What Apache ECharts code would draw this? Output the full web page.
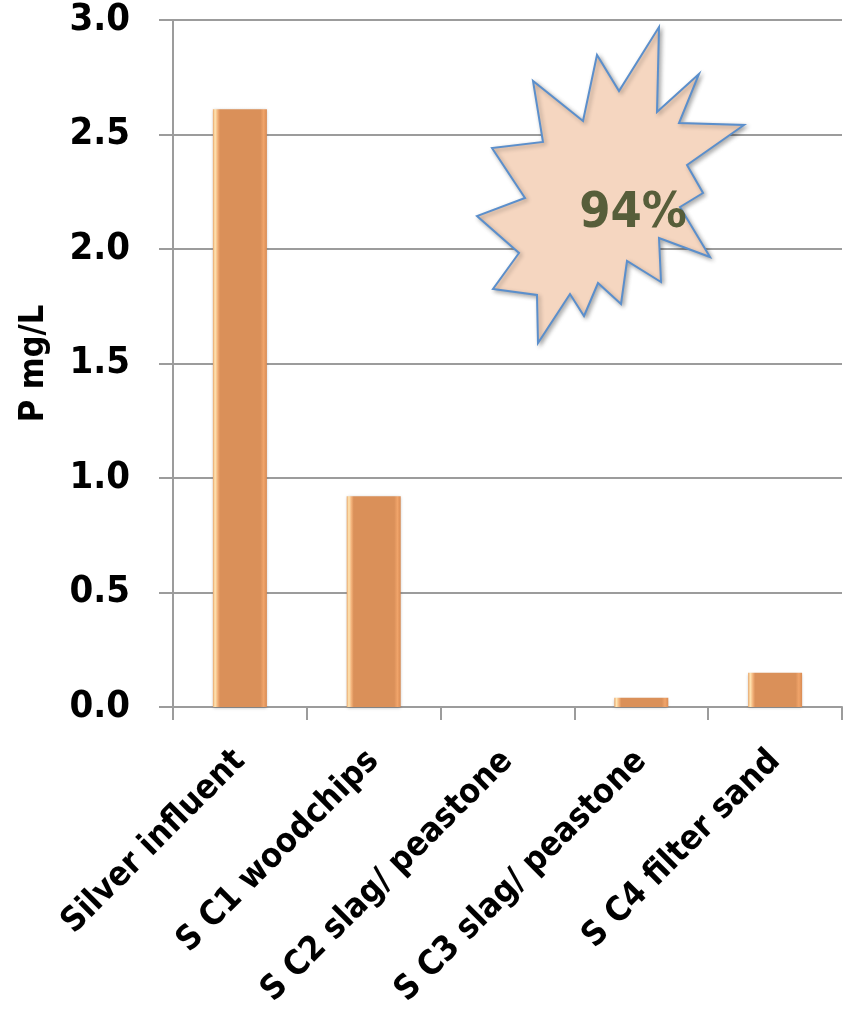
<!DOCTYPE html>
<html>
<head>
<meta charset="utf-8">
<script src="https://cdn.jsdelivr.net/npm/echarts@6/dist/echarts.min.js"></script>
<style>
  html, body { margin: 0; padding: 0; background: #ffffff; }
  #chart { width: 850px; height: 1011px; }
</style>
</head>
<body>
<div id="chart"></div>
<script>
const categories = ['Silver influent', 'S C1 woodchips', 'S C2 slag/ peastone', 'S C3 slag/ peastone', 'S C4 filter sand'];
const values = [2.61, 0.92, 0, 0.04, 0.15];
const yTicks = { min: 0, max: 3, interval: 0.5 };
const yName = 'P mg/L';
const calloutText = '94%';

const FONT = '"DejaVu Sans Condensed", "DejaVu Sans", sans-serif';
const chart = echarts.init(document.getElementById('chart'));

const barFill = new echarts.graphic.LinearGradient(0, 0, 1, 0, [
  { offset: 0, color: '#E8A468' },
  { offset: 0.04, color: '#FFE6B4' },
  { offset: 0.09, color: '#F2B078' },
  { offset: 0.13, color: '#DA9059' },
  { offset: 0.88, color: '#DA9059' },
  { offset: 0.94, color: '#F0A46A' },
  { offset: 1, color: '#D88A52' }
]);

const starPts = [
  [659,27],[657,112],[699,74],[679,123],[744,125],[687,165],[703,193],[680,207],
  [710,257],[659,238],[661,282],[627,261],[621,304],[598,283],[584,316],[570,294],
  [538,343],[537,295],[493,289],[519,253],[477,216],[525,198],[492,148],[543,142],
  [533,81],[583,121],[597,55],[619,91]
];

chart.setOption({
  animation: false,
  backgroundColor: '#ffffff',
  grid: { left: 173, right: 8, top: 20, bottom: 304, containLabel: false },
  xAxis: {
    type: 'category',
    data: categories,
    boundaryGap: true,
    axisLine: { lineStyle: { color: '#9C9C9C', width: 2 } },
    axisTick: { show: true, alignWithLabel: false, interval: 0, length: 13, lineStyle: { color: '#9C9C9C', width: 2 } },
    axisLabel: {
      interval: 0, rotate: 45, margin: 49,
      fontFamily: FONT, fontWeight: 'bold', fontSize: 34, color: '#000000'
    }
  },
  yAxis: {
    type: 'value',
    min: yTicks.min, max: yTicks.max, interval: yTicks.interval,
    name: yName,
    nameLocation: 'middle',
    nameRotate: 90,
    nameGap: 122,
    nameTextStyle: { fontFamily: FONT, fontWeight: 'bold', fontSize: 34, color: '#000000' },
    axisLine: { show: true, lineStyle: { color: '#9C9C9C', width: 2 } },
    axisTick: { show: true, length: 14, lineStyle: { color: '#9C9C9C', width: 2 } },
    splitLine: { show: true, lineStyle: { color: '#9C9C9C', width: 2 } },
    axisLabel: {
      margin: 43,
      fontFamily: FONT, fontWeight: 'bold', fontSize: 38, color: '#000000',
      formatter: v => v.toFixed(1)
    }
  },
  series: [{
    type: 'bar',
    data: values,
    barWidth: 54,
    itemStyle: {
      color: barFill,
      borderWidth: 0,
      shadowColor: 'rgba(0,0,0,0.25)',
      shadowBlur: 3,
      shadowOffsetY: 1
    }
  }],
  graphic: [
    {
      type: 'polygon',
      shape: { points: starPts },
      style: {
        fill: '#F5D6C0',
        stroke: '#5B8FCC',
        lineWidth: 2,
        shadowColor: 'rgba(0,0,0,0.3)',
        shadowBlur: 4,
        shadowOffsetX: 2,
        shadowOffsetY: 2
      },
      z: 100
    },
    {
      type: 'text',
      x: 633, y: 214,
      style: {
        text: calloutText,
        fontFamily: FONT, fontWeight: 'bold', fontSize: 50,
        fill: '#575E3A',
        align: 'center', verticalAlign: 'middle'
      },
      z: 101
    }
  ]
});
</script>
</body>
</html>
